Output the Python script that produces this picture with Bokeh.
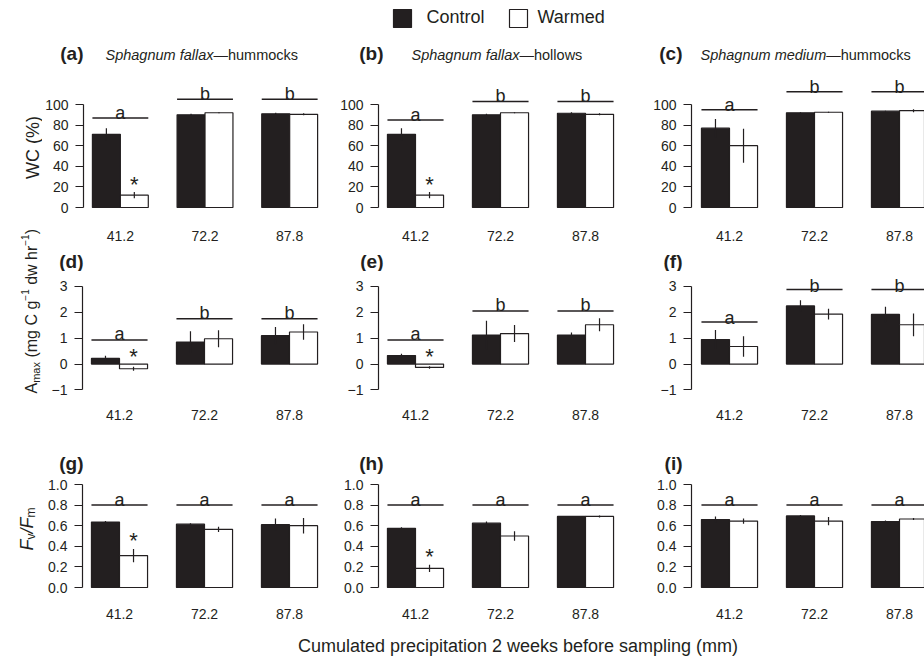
from math import pi
from bokeh.plotting import figure
from bokeh.layouts import row, column
from bokeh.models import Range1d, FixedTicker, CustomJSTickFormatter
from bokeh.core.properties import value
from bokeh.embed import file_html
from bokeh.resources import INLINE

FONT = "Liberation Sans"
INK = "#231f20"

# ---------------- data ----------------
precip = ["41.2", "72.2", "87.8"]
groups = [0, 1, 2]

panel_tags = ["(a)", "(b)", "(c)", "(d)", "(e)", "(f)", "(g)", "(h)", "(i)"]
species = ["Sphagnum fallax", "Sphagnum fallax", "Sphagnum medium"]
habitats = ["\u2014hummocks", "\u2014hollows", "\u2014hummocks"]

# WC (%)
a_ctrl = [71, 90, 91];          a_ctrl_se = [6, 1, 1]
a_warm = [12, 92, 90.5];        a_warm_se = [3, 0.5, 1]
a_letters = ["a", "b", "b"];    a_line = [87, 105, 105];   a_star = ["*", "", ""]
b_ctrl = [71, 90, 91.5];        b_ctrl_se = [6, 1, 1]
b_warm = [12, 92, 90.5];        b_warm_se = [3, 0.5, 1]
b_letters = ["a", "b", "b"];    b_line = [85, 103, 103];   b_star = ["*", "", ""]
c_ctrl = [77, 92, 93.5];        c_ctrl_se = [9, 0.5, 0.5]
c_warm = [60, 92.5, 94];        c_warm_se = [16.5, 0.5, 1.5]
c_letters = ["a", "b", "b"];    c_line = [95, 112.5, 112.5]; c_star = ["", "", ""]

# Amax (mg C g-1 dw hr-1)
d_ctrl = [0.22, 0.85, 1.1];     d_ctrl_se = [0.1, 0.42, 0.33]
d_warm = [-0.18, 0.98, 1.24];   d_warm_se = [0.08, 0.33, 0.3]
d_letters = ["a", "b", "b"];    d_line = [0.93, 1.75, 1.75]; d_star = ["*", "", ""]
e_ctrl = [0.33, 1.12, 1.12];    e_ctrl_se = [0.07, 0.56, 0.1]
e_warm = [-0.13, 1.18, 1.52];   e_warm_se = [0.05, 0.33, 0.25]
e_letters = ["a", "b", "b"];    e_line = [0.93, 2.05, 2.05]; e_star = ["*", "", ""]
f_ctrl = [0.95, 2.25, 1.92];    f_ctrl_se = [0.37, 0.22, 0.3]
f_warm = [0.68, 1.93, 1.52];    f_warm_se = [0.4, 0.21, 0.44]
f_letters = ["a", "b", "b"];    f_line = [1.63, 2.88, 2.88]; f_star = ["", "", ""]

# Fv/Fm
g_ctrl = [0.635, 0.615, 0.61];  g_ctrl_se = [0.01, 0.01, 0.06]
g_warm = [0.31, 0.565, 0.60];   g_warm_se = [0.065, 0.025, 0.075]
g_letters = ["a", "a", "a"];    g_line = [0.8, 0.8, 0.8];  g_star = ["*", "", ""]
h_ctrl = [0.575, 0.625, 0.69];  h_ctrl_se = [0.01, 0.015, 0.005]
h_warm = [0.185, 0.50, 0.69];   h_warm_se = [0.035, 0.045, 0.01]
h_letters = ["a", "a", "a"];    h_line = [0.8, 0.8, 0.8];  h_star = ["*", "", ""]
i_ctrl = [0.66, 0.695, 0.64];   i_ctrl_se = [0.03, 0.01, 0.01]
i_warm = [0.645, 0.645, 0.665]; i_warm_se = [0.025, 0.04, 0.01]
i_letters = ["a", "a", "a"];    i_line = [0.8, 0.8, 0.8];  i_star = ["", "", ""]

wc_ticks = [0, 20, 40, 60, 80, 100]
amax_ticks = [-1, 0, 1, 2, 3]
fvfm_ticks = [0.0, 0.2, 0.4, 0.6, 0.8, 1.0]

legend_labels = ["Control", "Warmed"]
x_title = "Cumulated precipitation 2 weeks before sampling (mm)"

# ---------------- helpers ----------------
EM = {' ': .278, '(': .333, ')': .333, 'A': .667, 'C': .722, 'S': .667, 'F': .611,
      'W': .944, '%': .889, '/': .278, '\u2212': .584, '1': .556, 'a': .556, 'c': .5,
      'd': .556, 'e': .556, 'f': .278, 'g': .556, 'h': .556, 'i': .222, 'k': .5,
      'l': .222, 'm': .833, 'n': .556, 'o': .556, 'p': .556, 'r': .333, 's': .5,
      'u': .556, 'v': .5, 'w': .722, 'x': .5, '\u2014': 1.0}


def tw(s, size):
    return sum(EM.get(ch, .556) for ch in s) * size


def blank(width, height, x0, y0):
    p = figure(width=width, height=height, x_range=Range1d(x0, x0 + width),
               y_range=Range1d(y0 + height, y0), x_axis_type=None, y_axis_type=None,
               toolbar_location=None, output_backend="svg", min_border=0, title=None)
    p.outline_line_color = None
    return p


BW = 0.33
PX_PER_GROUP = 85.0
COL_W = [292, 313, 277]
COL_BL = [40, 44, 44]
COL_X0 = [-37 / 85, -37 / 85, -38 / 85]
COL_FRAME_W = [252, 269, 233]
TAG_RIGHT = [83, 383, 682]
SPECIES_LEFT = [105, 411, 700]
# vertical pixel offset of the significance letters above their line, per row / column
LETTER_OFF = [[-5, -5, -5], [-6, -6, -4], [-5, -5, -5]]

# rows: frame top (page y), frame bottom, border bottom, page y of value 0, px per unit
ROWS = [
    dict(top=66, bottom=210, bb=40, zero=207.0, k=1.03, ticks=wc_ticks,
         code="return String(tick);", bounds=(0, 100), stand=20),
    dict(top=271, bottom=392, bb=48, zero=363.6, k=25.875, ticks=amax_ticks,
         code="return tick < 0 ? '\\u2212' + Math.abs(tick) : String(tick);",
         bounds=(-1, 3), stand=17),
    dict(top=474, bottom=589, bb=37, zero=587.0, k=103.0, ticks=fvfm_ticks,
         code="return tick.toFixed(1);", bounds=(0, 1), stand=19),
]
# title strips: (page top, height, tag centre y)
STRIPS = [(36, 30, 53), (250, 21, 261), (440, 34, 463)]


def panel(ci, ri, ctrl, ctrl_se, warm, warm_se, letters, line_y, star):
    R = ROWS[ri]
    frame_h = R["bottom"] - R["top"]
    yr = (-(R["bottom"] - R["zero"]) / R["k"], (R["zero"] - R["top"]) / R["k"])
    x0 = COL_X0[ci]
    xr = (x0, x0 + COL_FRAME_W[ci] / PX_PER_GROUP)
    p = figure(width=COL_W[ci], height=frame_h + R["bb"], x_range=Range1d(*xr),
               y_range=Range1d(*yr), toolbar_location=None, output_backend="svg",
               min_border_left=COL_BL[ci], min_border_right=0, min_border_top=0,
               min_border_bottom=R["bb"], title=None)
    p.outline_line_color = None
    p.grid.visible = False
    xc = [g - BW / 2 for g in groups]
    xw = [g + BW / 2 for g in groups]
    p.vbar(x=xc, top=ctrl, bottom=0, width=BW, fill_color=INK, line_color=INK, line_width=1.2)
    p.vbar(x=xw, top=warm, bottom=0, width=BW, fill_color="white", line_color=INK, line_width=1.2)
    p.segment(x0=xc, x1=xc, y0=[v - s for v, s in zip(ctrl, ctrl_se)],
              y1=[v + s for v, s in zip(ctrl, ctrl_se)], line_color=INK, line_width=1.2)
    p.segment(x0=xw, x1=xw, y0=[v - s for v, s in zip(warm, warm_se)],
              y1=[v + s for v, s in zip(warm, warm_se)], line_color=INK, line_width=1.2)
    p.segment(x0=[g - BW for g in groups], x1=[g + BW for g in groups], y0=line_y, y1=line_y,
              line_color=INK, line_width=1.5)
    p.text(x=groups, y=line_y, text=letters, text_align="center", text_baseline="alphabetic",
           y_offset=LETTER_OFF[ri][ci], text_font=value(FONT), text_font_size="18px",
           text_color=INK)
    sy = [max(0, v + s) for v, s in zip(warm, warm_se)]
    p.text(x=xw, y=sy, text=star, text_align="center", text_baseline="alphabetic",
           y_offset=-8, text_font=value(FONT), text_font_size="22px", text_color=INK)

    ya = p.yaxis[0]
    ya.ticker = FixedTicker(ticks=R["ticks"])
    ya.bounds = R["bounds"]
    ya.formatter = CustomJSTickFormatter(code=R["code"])
    ya.axis_line_color = INK
    ya.axis_line_width = 1.2
    ya.major_tick_line_color = INK
    ya.major_tick_line_width = 1.2
    ya.major_tick_out = 8
    ya.major_tick_in = 0
    ya.minor_tick_line_color = None
    ya.major_label_text_font = FONT
    ya.major_label_text_font_size = "14px"
    ya.major_label_text_color = INK
    ya.major_label_standoff = 7

    xa = p.xaxis[0]
    xa.ticker = FixedTicker(ticks=groups)
    xa.formatter = CustomJSTickFormatter(args=dict(labels=precip),
                                         code="return labels[Math.round(tick)];")
    xa.axis_line_color = None
    xa.major_tick_line_color = None
    xa.minor_tick_line_color = None
    xa.major_tick_out = 0
    xa.major_tick_in = 0
    xa.major_label_text_font = FONT
    xa.major_label_text_font_size = "14px"
    xa.major_label_text_color = INK
    xa.major_label_standoff = R["stand"]
    return p


def title_strip(ri):
    y0, h, yc = STRIPS[ri]
    s = blank(882, h, 42, y0)
    s.text(x=TAG_RIGHT, y=[yc] * 3, text=panel_tags[ri * 3:ri * 3 + 3], text_align="right",
           text_baseline="middle", text_font=value(FONT), text_font_size="19px",
           text_font_style="bold", text_color=INK)
    if ri == 0:
        s.text(x=SPECIES_LEFT, y=[yc + 1] * 3, text=species, text_align="left",
               text_baseline="middle", text_font=value(FONT), text_font_size="14.5px",
               text_font_style="italic", text_color=INK)
        hx = [x + tw(t, 14.5) for x, t in zip(SPECIES_LEFT, species)]
        s.text(x=hx, y=[yc + 1] * 3, text=habitats, text_align="left",
               text_baseline="middle", text_font=value(FONT), text_font_size="14.5px",
               text_color=INK)
    return s


# ---------------- build ----------------
legend_fig = blank(924, 36, 0, 0)
legend_fig.rect(x=[402, 518], y=[18, 18], width=18, height=18,
                fill_color=[INK, "white"], line_color=INK, line_width=1.2)
legend_fig.text(x=[426, 537], y=[16, 16], text=legend_labels, text_align="left",
                text_baseline="middle", text_font=value(FONT), text_font_size="18px",
                text_color=INK)

row1 = row(panel(0, 0, a_ctrl, a_ctrl_se, a_warm, a_warm_se, a_letters, a_line, a_star),
           panel(1, 0, b_ctrl, b_ctrl_se, b_warm, b_warm_se, b_letters, b_line, b_star),
           panel(2, 0, c_ctrl, c_ctrl_se, c_warm, c_warm_se, c_letters, c_line, c_star))
row2 = row(panel(0, 1, d_ctrl, d_ctrl_se, d_warm, d_warm_se, d_letters, d_line, d_star),
           panel(1, 1, e_ctrl, e_ctrl_se, e_warm, e_warm_se, e_letters, e_line, e_star),
           panel(2, 1, f_ctrl, f_ctrl_se, f_warm, f_warm_se, f_letters, f_line, f_star))
row3 = row(panel(0, 2, g_ctrl, g_ctrl_se, g_warm, g_warm_se, g_letters, g_line, g_star),
           panel(1, 2, h_ctrl, h_ctrl_se, h_warm, h_warm_se, h_letters, h_line, h_star),
           panel(2, 2, i_ctrl, i_ctrl_se, i_warm, i_warm_se, i_letters, i_line, i_star))

# y-axis labels (page coordinates)
ylab = blank(42, 590, 0, 36)
ylab.text(x=[32], y=[147], text=["WC (%)"], angle=pi / 2, text_align="center",
          text_baseline="alphabetic", text_font=value(FONT), text_font_size="18px", text_color=INK)


def rotated_segments(p, segs, y_start):
    # each segment: (text, size, style, baseline x, gap before in px)
    y = y_start
    for txt, size, style, xb, gap in segs:
        y -= gap
        p.text(x=[xb], y=[y], text=[txt], angle=pi / 2, text_align="left",
               text_baseline="alphabetic", text_font=value(FONT), text_font_size=f"{size}px",
               text_font_style=style, text_color=INK)
        y -= tw(txt, size)


SP = tw(" ", 16)
rotated_segments(ylab, [("A", 16, "normal", 31, 0), ("max", 11, "normal", 35, 0),
                        ("(mg C g", 16, "normal", 31, SP), ("\u22121", 10, "normal", 24, 0),
                        ("dw hr", 16, "normal", 31, SP), ("\u22121", 10, "normal", 24, 0),
                        (")", 16, "normal", 31, 0)], 393)
rotated_segments(ylab, [("F", 18, "italic", 26, 0), ("v", 12, "normal", 30, 0),
                        ("/F", 18, "italic", 26, 0), ("m", 12, "normal", 30, 0)], 550)

xlab = blank(924, 32, 0, 626)
xlab.text(x=[517.5], y=[645], text=[x_title], text_align="center", text_baseline="middle",
          text_font=value(FONT), text_font_size="18px", text_color=INK)

layout = column(legend_fig,
                row(ylab, column(title_strip(0), row1, title_strip(1), row2, title_strip(2), row3)),
                xlab)

open("out.html", "w", encoding="utf-8").write(file_html(layout, INLINE))
